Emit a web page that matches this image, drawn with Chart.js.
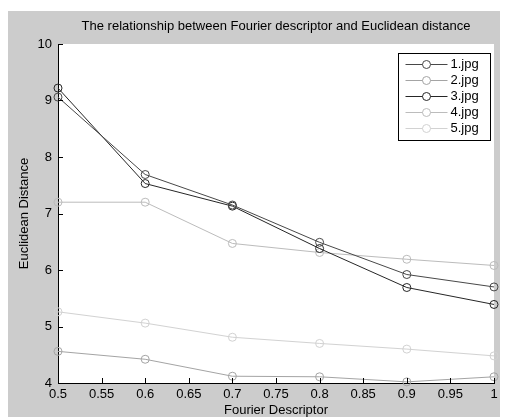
<!DOCTYPE html>
<html>
<head>
<meta charset="utf-8">
<script src="https://cdn.jsdelivr.net/npm/chart.js@4"></script>
<style>
  html, body { margin: 0; padding: 0; background: #fff; }
</style>
</head>
<body>
<canvas id="chart" width="508" height="417"></canvas>
<script>
// values
const fourierDescriptor = [0.5, 0.6, 0.7, 0.8, 0.9, 1];
const seriesLabels = ['1.jpg', '2.jpg', '3.jpg', '4.jpg', '5.jpg'];
const img1 = [9.06, 7.69, 7.15, 6.49, 5.92, 5.70];
const img2 = [4.56, 4.42, 4.12, 4.11, 4.02, 4.11];
const img3 = [9.22, 7.53, 7.13, 6.38, 5.69, 5.39];
const img4 = [7.20, 7.20, 6.47, 6.31, 6.19, 6.08];
const img5 = [5.26, 5.06, 4.81, 4.70, 4.60, 4.48];
const xTickLabels = ['0.5', '0.55', '0.6', '0.65', '0.7', '0.75', '0.8', '0.85', '0.9', '0.95', '1'];
const yTickLabels = ['4', '5', '6', '7', '8', '9', '10'];

const FONT = "'Liberation Sans', Arial, sans-serif";
const colors = ['#484848', '#a4a4a4', '#262626', '#bcbcbc', '#d2d2d2'];

function toPoints(values) {
  return values.map((v, i) => ({ x: fourierDescriptor[i], y: v }));
}

const allSeries = [img1, img2, img3, img4, img5];

const datasets = allSeries.map((vals, i) => ({
  label: seriesLabels[i],
  data: toPoints(vals),
  borderColor: colors[i],
  borderWidth: 1,
  pointRadius: 4,
  pointBorderWidth: 1,
  pointBorderColor: colors[i],
  pointBackgroundColor: 'rgba(0,0,0,0)',
  tension: 0,
  clip: false
}));

const background = {
  id: 'background',
  beforeDraw(chart) {
    const { ctx, chartArea } = chart;
    ctx.save();
    ctx.fillStyle = '#fff';
    ctx.fillRect(0, 0, chart.width, chart.height);
    ctx.fillStyle = '#cccccc';
    ctx.fillRect(8, 11, chart.width - 16, chart.height - 11);
    ctx.fillStyle = '#fff';
    ctx.fillRect(chartArea.left, chartArea.top, chartArea.right - chartArea.left, chartArea.bottom - chartArea.top);
    ctx.restore();
  }
};

// matlab style ticks pointing into the axes
const inwardTicks = {
  id: 'inwardTicks',
  afterDatasetsDraw(chart) {
    const { ctx, chartArea, scales: { x, y } } = chart;
    ctx.save();
    ctx.strokeStyle = '#000';
    ctx.lineWidth = 1;
    ctx.beginPath();
    x.ticks.forEach(t => {
      const px = Math.round(x.getPixelForValue(t.value)) + 0.5;
      ctx.moveTo(px, chartArea.bottom);
      ctx.lineTo(px, chartArea.bottom - 5);
    });
    y.ticks.forEach(t => {
      const py = Math.round(y.getPixelForValue(t.value)) + 0.5;
      ctx.moveTo(chartArea.left, py);
      ctx.lineTo(chartArea.left + 5, py);
    });
    ctx.stroke();
    ctx.restore();
  }
};

const boxLegend = {
  id: 'boxLegend',
  afterDraw(chart) {
    const { ctx, chartArea } = chart;
    const sets = chart.data.datasets;
    const w = 92, rowH = 16;
    const h = rowH * sets.length + 7;
    const left = Math.round(chartArea.right - 4 - w) + 0.5;
    const top = Math.round(chartArea.top + 9) + 0.5;
    ctx.save();
    ctx.fillStyle = '#fff';
    ctx.fillRect(left, top, w, h);
    ctx.strokeStyle = '#000';
    ctx.lineWidth = 1;
    ctx.strokeRect(left, top, w, h);
    ctx.font = '13px ' + FONT;
    ctx.textBaseline = 'middle';
    ctx.textAlign = 'left';
    sets.forEach((ds, i) => {
      const cy = Math.round(top + 10 + i * rowH) + 0.5;
      ctx.strokeStyle = ds.borderColor;
      ctx.beginPath();
      ctx.moveTo(left + 7, cy);
      ctx.lineTo(left + 49, cy);
      ctx.stroke();
      ctx.beginPath();
      ctx.arc(left + 28, cy, 4, 0, Math.PI * 2);
      ctx.fillStyle = '#fff';
      ctx.fill();
      ctx.stroke();
      ctx.fillStyle = '#000';
      ctx.fillText(ds.label, left + 52, cy);
    });
    ctx.restore();
  }
};

new Chart(document.getElementById('chart'), {
  type: 'line',
  data: { datasets },
  options: {
    responsive: false,
    animation: false,
    events: [],
    layout: { padding: { left: 0, right: 14, top: 0, bottom: 0 } },
    plugins: {
      legend: { display: false },
      tooltip: { enabled: false },
      title: {
        display: true,
        fullSize: false,
        text: 'The relationship between Fourier descriptor and Euclidean distance',
        color: '#000',
        font: { size: 13, family: FONT, weight: 'normal', lineHeight: 1.2 },
        padding: { top: 19, bottom: 9.4 }
      }
    },
    scales: {
      x: {
        type: 'linear',
        min: 0.5,
        max: 1,
        ticks: {
          stepSize: 0.05,
          autoSkip: false,
          maxRotation: 0,
          padding: 4,
          color: '#000',
          font: { size: 13, family: FONT },
          callback: (v, i) => xTickLabels[i]
        },
        grid: { display: false, drawTicks: false },
        border: { display: true, color: '#000', width: 1 },
        title: {
          display: true,
          text: 'Fourier Descriptor',
          color: '#000',
          font: { size: 13, family: FONT, lineHeight: 1 },
          padding: 0
        },
        afterFit: s => { s.height = 34; }
      },
      y: {
        min: 4,
        max: 10,
        ticks: {
          stepSize: 1,
          padding: 6,
          color: '#000',
          font: { size: 13, family: FONT },
          callback: (v, i) => yTickLabels[i]
        },
        grid: { display: false, drawTicks: false },
        border: { display: true, color: '#000', width: 1 },
        title: {
          display: true,
          text: 'Euclidean Distance',
          color: '#000',
          font: { size: 13, family: FONT, lineHeight: 1 },
          padding: { top: 18, bottom: 0 }
        },
        afterFit: s => { s.width = 58; }
      }
    }
  },
  plugins: [background, inwardTicks, boxLegend]
});
</script>
</body>
</html>
